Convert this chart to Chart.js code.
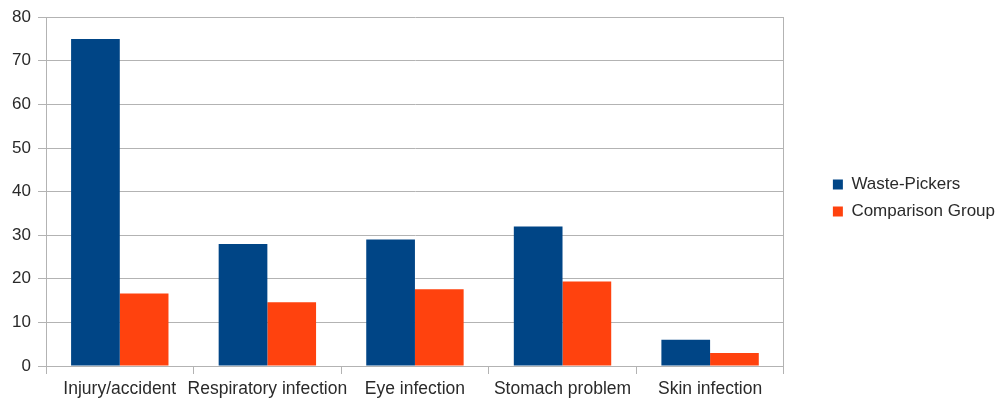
<!DOCTYPE html>
<html>
<head>
<meta charset="utf-8">
<script src="https://cdn.jsdelivr.net/npm/chart.js@4/dist/chart.umd.min.js"></script>
<style>
  html, body { margin: 0; padding: 0; background: #ffffff; }
  #wrap { width: 999px; height: 401px; }
</style>
</head>
<body>
<div id="wrap"><canvas id="chart" width="999" height="401"></canvas></div>
<script>
// Health problems reported, by group (%)
const categories = ['Injury/accident', 'Respiratory infection', 'Eye infection', 'Stomach problem', 'Skin infection'];
const wastePickers = [75, 28, 29, 32, 6];
const comparisonGroup = [16.6, 14.6, 17.6, 19.4, 3];
const yTicks = [0, 10, 20, 30, 40, 50, 60, 70, 80];

const textColor = '#2a2a2a';
const lineColor = '#b3b3b3';
const family = '"Liberation Sans", Arial, sans-serif';

new Chart(document.getElementById('chart'), {
  type: 'bar',
  data: {
    labels: categories,
    datasets: [
      { label: 'Waste-Pickers', data: wastePickers, backgroundColor: '#004586', borderWidth: 0 },
      { label: 'Comparison Group', data: comparisonGroup, backgroundColor: '#ff420e', borderWidth: 0 }
    ]
  },
  options: {
    responsive: false,
    animation: false,
    devicePixelRatio: 1,
    layout: { padding: { top: -5, left: 0, right: -6, bottom: 0 } },
    datasets: { bar: { categoryPercentage: 0.66, barPercentage: 1.0 } },
    plugins: {
      legend: {
        position: 'right',
        maxWidth: 200,
        labels: {
          color: textColor,
          font: { family, size: 17 },
          boxWidth: 10,
          boxHeight: 10,
          padding: 10
        }
      },
      tooltip: { enabled: false }
    },
    scales: {
      x: {
        grid: { offset: true, drawOnChartArea: false, drawTicks: true, tickLength: 8, color: lineColor },
        border: { display: true, color: lineColor },
        ticks: { color: textColor, font: { family, size: 17.5 }, padding: 5, maxRotation: 0, autoSkip: false },
        afterFit: s => { s.height = 35; }
      },
      y: {
        min: 0, max: 80,
        afterBuildTicks: s => { s.ticks = yTicks.map(v => ({ value: v })); },
        grid: { color: lineColor, tickLength: 8 },
        border: { display: true, color: lineColor },
        ticks: { color: textColor, font: { family, size: 17 }, padding: 7 },
        afterFit: s => { s.width = 46; }
      },
      frame: {
        position: 'right',
        min: 0, max: 80,
        grid: { display: false },
        border: { display: true, color: lineColor },
        ticks: { display: false },
        afterFit: s => { s.width = 39; }
      }
    }
  }
});
</script>
</body>
</html>
